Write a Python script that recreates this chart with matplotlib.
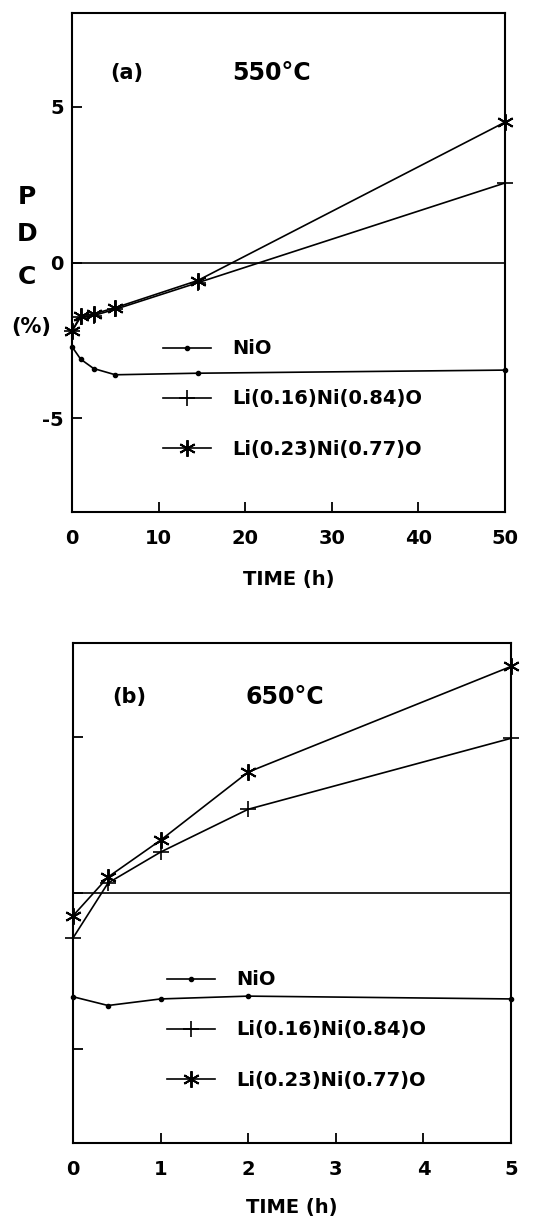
import matplotlib
matplotlib.use("Agg")
import matplotlib.pyplot as plt
from matplotlib.lines import Line2D

plt.rcParams['font.family'] = ['DejaVu Sans']
plt.rcParams['font.weight'] = 'bold'

# ---- data panel (a) 550 C ----
t_a = [0, 1, 2.5, 5, 14.5, 50]
nio_a = [-2.7, -3.1, -3.4, -3.6, -3.55, -3.45]
li16_a = [-2.2, -1.75, -1.7, -1.5, -0.65, 2.55]
li23_a = [-2.2, -1.7, -1.65, -1.45, -0.58, 4.5]

# ---- data panel (b) 650 C ----
t_b = [0, 0.4, 1, 2, 5]
nio_b = [-3.32, -3.6, -3.39, -3.3, -3.39]
li16_b = [-1.44, 0.32, 1.31, 2.68, 4.95]
li23_b = [-0.73, 0.51, 1.69, 3.87, 7.25]

labels = ['NiO', 'Li(0.16)Ni(0.84)O', 'Li(0.23)Ni(0.77)O']
xticks_a = [0, 10, 20, 30, 40, 50]
xticks_b = [0, 1, 2, 3, 4, 5]
yticks = [-5, 0, 5]

W, H = 545, 1222
fig = plt.figure(figsize=(W / 100, H / 100), dpi=100)

def fr(l, t, r, b):
    return [l / W, 1 - b / H, (r - l) / W, (b - t) / H]

ax_a = fig.add_axes(fr(72, 13, 505, 512))
ax_b = fig.add_axes(fr(73, 643, 511, 1143))

star = (6, 2, 0)
fs = 14

def style(ax, xt, show_y, lpad):
    for s in ax.spines.values():
        s.set_linewidth(1.5)
    ax.set_ylim(-8, 8)
    ax.set_xticks(xt)
    ax.set_yticks(yticks)
    ax.tick_params(direction='in', length=7, width=1.3, labelsize=fs, top=False, right=False)
    ax.tick_params(axis='x', pad=12)
    ax.tick_params(axis='y', pad=6)
    if not show_y:
        ax.set_yticklabels([])
    else:
        ax.set_yticklabels(['-5', '0', '5'])
    for lab in ax.get_xticklabels() + ax.get_yticklabels():
        lab.set_fontweight('bold')
    ax.set_xlabel('TIME (h)', fontsize=fs, fontweight='bold', labelpad=lpad)
    ax.axhline(0, color='black', lw=1.2)

def draw(ax, t, nio, l16, l23):
    ax.plot(t, nio, '-', color='black', lw=1.2, marker='o', ms=3, clip_on=False)
    ax.plot(t, l16, '-', color='black', lw=1.2, marker='+', ms=12, mew=1.2, clip_on=False)
    ax.plot(t, l23, '-', color='black', lw=1.2, marker=star, ms=12, mew=1.4, clip_on=False)

def legend(ax, anchor):
    handles = [
        Line2D([], [], color='black', lw=1.2, marker='o', ms=3),
        Line2D([], [], color='black', lw=1.2, marker='+', ms=12, mew=1.2),
        Line2D([], [], color='black', lw=1.2, marker=star, ms=12, mew=1.4),
    ]
    ax.legend(handles, labels, loc='center left', bbox_to_anchor=anchor, frameon=False,
              handlelength=2.45, handletextpad=1.1, labelspacing=1.6,
              borderpad=0, borderaxespad=0,
              prop={'weight': 'bold', 'size': fs})

draw(ax_a, t_a, nio_a, li16_a, li23_a)
style(ax_a, xticks_a, True, 16)
ax_a.set_xlim(0, 50)
legend(ax_a, (0.21, 0.2265))
ax_a.text(0.088, 0.88, '(a)', transform=ax_a.transAxes, fontsize=15, fontweight='bold', va='center')
ax_a.text(0.37, 0.88, '550°C', transform=ax_a.transAxes, fontsize=17, fontweight='bold', va='center')

draw(ax_b, t_b, nio_b, li16_b, li23_b)
style(ax_b, xticks_b, False, 14)
ax_b.set_xlim(0, 5)
legend(ax_b, (0.215, 0.226))
ax_b.text(0.089, 0.892, '(b)', transform=ax_b.transAxes, fontsize=15, fontweight='bold', va='center')
ax_b.text(0.393, 0.892, '650°C', transform=ax_b.transAxes, fontsize=17, fontweight='bold', va='center')

# stacked y label for panel (a)
for ch, yp in [('P', 197), ('D', 234), ('C', 277)]:
    fig.text(27 / W, 1 - yp / H, ch, fontsize=18, fontweight='bold', ha='center', va='center')
fig.text(31 / W, 1 - 327 / H, '(%)', fontsize=15, fontweight='bold', ha='center', va='center')

fig.savefig('out.png', dpi=100)
